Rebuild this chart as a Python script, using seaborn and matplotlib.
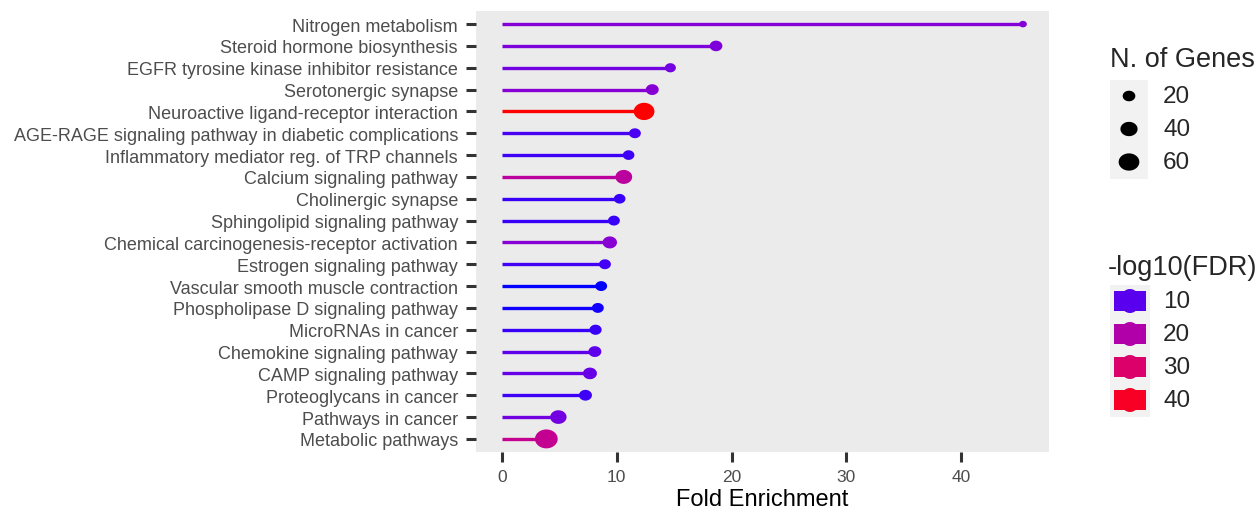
import numpy as np
import pandas as pd
import matplotlib
matplotlib.use("Agg")
import matplotlib.pyplot as plt
import seaborn as sns
from matplotlib.colors import ListedColormap, Normalize
from matplotlib.path import Path
from matplotlib.markers import MarkerStyle
from matplotlib.patches import Rectangle, Ellipse

# ---- data -----------------------------------------------------------------
pathways = [
    "Nitrogen metabolism",
    "Steroid hormone biosynthesis",
    "EGFR tyrosine kinase inhibitor resistance",
    "Serotonergic synapse",
    "Neuroactive ligand-receptor interaction",
    "AGE-RAGE signaling pathway in diabetic complications",
    "Inflammatory mediator reg. of TRP channels",
    "Calcium signaling pathway",
    "Cholinergic synapse",
    "Sphingolipid signaling pathway",
    "Chemical carcinogenesis-receptor activation",
    "Estrogen signaling pathway",
    "Vascular smooth muscle contraction",
    "Phospholipase D signaling pathway",
    "MicroRNAs in cancer",
    "Chemokine signaling pathway",
    "CAMP signaling pathway",
    "Proteoglycans in cancer",
    "Pathways in cancer",
    "Metabolic pathways",
]
fold_enrichment = [45.4, 18.65, 14.67, 13.09, 12.38, 11.58, 11.03, 10.61, 10.25, 9.75,
                   9.39, 8.97, 8.64, 8.35, 8.15, 8.09, 7.66, 7.27, 4.91, 3.86]
n_genes = [5, 20, 14, 21, 60, 17, 16, 38, 16, 17,
           27, 17, 17, 17, 18, 21, 25, 21, 36, 73]
neg_log10_fdr = [13.5, 13, 12, 14, 43, 9.2, 8.8, 22, 8.5, 8.6,
                 14, 9, 7.5, 7.7, 8.5, 10.5, 11, 8.8, 12, 24]

x_ticks = [0, 10, 20, 30, 40]
size_breaks = [20, 40, 60]
fdr_breaks = [10, 20, 30, 40]

# ---- blue -> red gradient interpolated in CIE Lab --------------------------
_M = np.array([[0.4124564, 0.3575761, 0.1804375],
               [0.2126729, 0.7151522, 0.0721750],
               [0.0193339, 0.1191920, 0.9503041]])
_WHITE = np.array([0.95047, 1.0, 1.08883])


def rgb_to_lab(rgb):
    c = np.asarray(rgb, dtype=float)
    lin = np.where(c <= 0.04045, c / 12.92, ((c + 0.055) / 1.055) ** 2.4)
    xyz = (_M @ lin) / _WHITE
    f = np.where(xyz > 0.008856, np.cbrt(xyz), 7.787 * xyz + 16 / 116)
    return np.array([116 * f[1] - 16, 500 * (f[0] - f[1]), 200 * (f[1] - f[2])])


def lab_to_rgb(lab):
    L, a, b = lab
    fy = (L + 16) / 116
    f = np.array([fy + a / 500, fy, fy - b / 200])
    xyz = np.where(f ** 3 > 0.008856, f ** 3, (f - 16 / 116) / 7.787) * _WHITE
    lin = np.linalg.solve(_M, xyz)
    lin = np.clip(lin, 0, None)
    rgb = np.where(lin <= 0.0031308, 12.92 * lin, 1.055 * lin ** (1 / 2.4) - 0.055)
    return np.clip(rgb, 0, 1)


lab_lo = rgb_to_lab([0, 0, 1])
lab_hi = rgb_to_lab([1, 0, 0])
grad = [lab_to_rgb(lab_lo + t * (lab_hi - lab_lo)) for t in np.linspace(0, 1, 256)]
cmap = ListedColormap(grad, name="blue_red_lab")

df = pd.DataFrame({
    "pathway": pathways,
    "fold": fold_enrichment,
    "genes": n_genes,
    "fdr": neg_log10_fdr,
})
n = len(df)
df["pos"] = np.arange(n)[::-1]

fdr_norm = Normalize(df["fdr"].min(), df["fdr"].max())
size_range = (14, 361)     # marker area (pt^2), linear in gene count
size_norm = (0, 100)


def marker_area(count):
    return size_range[0] + (size_range[1] - size_range[0]) * (count - size_norm[0]) / (size_norm[1] - size_norm[0])


# slightly wide ellipse for the lollipop heads
theta = np.linspace(0, 2 * np.pi, 73)
head = MarkerStyle(Path(np.column_stack([np.cos(theta), np.sin(theta) / 1.2]), closed=True))

# ---- figure ---------------------------------------------------------------
sns.set_style("white")
plt.rcParams["font.family"] = ["Liberation Sans", "DejaVu Sans"]

W, H = 1259, 510
fig = plt.figure(figsize=(W / 100, H / 100), dpi=100)
ax = fig.add_axes([476 / W, 1 - 453 / H, (1049 - 476) / W, (453 - 12) / H])
ax.set_facecolor("#EBEBEB")

ax.hlines(df["pos"], 0, df["fold"], colors=cmap(fdr_norm(df["fdr"])),
          linewidth=2.4, zorder=2)
sns.scatterplot(data=df, x="fold", y="pos", hue="fdr", palette=cmap,
                hue_norm=(df["fdr"].min(), df["fdr"].max()),
                size="genes", sizes=size_range, size_norm=size_norm,
                marker=head, linewidth=0, legend=False, ax=ax, zorder=3)

xmax = df["fold"].max()
ax.set_xlim(-0.05 * xmax, 1.05 * xmax)
ax.set_ylim(-0.6, n - 0.4)
ax.set_xticks(x_ticks)
ax.set_xticklabels([str(t) for t in x_ticks])
ax.set_yticks(df["pos"])
ax.set_yticklabels(df["pathway"])
for s in ax.spines.values():
    s.set_visible(False)
ax.grid(False)
ax.tick_params(axis="y", left=True, direction="out", length=7, width=2.2,
               color="#333333", pad=6, labelsize=13, labelcolor="#4D4D4D")
ax.tick_params(axis="x", bottom=True, direction="out", length=7, width=2.2,
               color="#333333", pad=5, labelsize=12.5, labelcolor="#4D4D4D")
ax.set_xlabel("Fold Enrichment", fontsize=17, color="black", labelpad=3)
ax.set_ylabel("")

# ---- legends (drawn in a pixel-coordinate side panel) ----------------------
lax = fig.add_axes([1090 / W, 0, (W - 1090) / W, 1])
lax.set_xlim(1090, W)
lax.set_ylim(H, 0)
lax.axis("off")

key_step = 33
# gene-count legend
lax.text(1110, 60, "N. of Genes", fontsize=19.5, ha="left", va="center")
y0 = 97
lax.add_patch(Rectangle((1110, y0 - key_step / 2), 38, key_step * len(size_breaks),
                        facecolor="#F2F2F2", edgecolor="none"))
size_y = [y0 + i * key_step for i in range(len(size_breaks))]
lax.scatter([1129] * len(size_breaks), size_y,
            s=[marker_area(v) for v in size_breaks], marker=head,
            color="black", linewidth=0)
for v, y in zip(size_breaks, size_y):
    lax.text(1163, y, str(v), fontsize=17.5, ha="left", va="center")

# -log10(FDR) legend
lax.text(1108, 268, "-log10(FDR)", fontsize=19.5, ha="left", va="center")
y1 = 302
lax.add_patch(Rectangle((1110, y1 - key_step / 2), 40, key_step * len(fdr_breaks),
                        facecolor="#F2F2F2", edgecolor="none"))
for i, v in enumerate(fdr_breaks):
    y = y1 + i * key_step
    c = cmap(fdr_norm(v))
    lax.add_patch(Rectangle((1114, y - 10), 32, 20, facecolor=c, edgecolor="none"))
    lax.add_patch(Ellipse((1130, y), 20, 24, facecolor=c, edgecolor="none"))
    lax.text(1163, y, str(v), fontsize=17.5, ha="left", va="center")

fig.savefig("out.png", dpi=100, facecolor="white")
